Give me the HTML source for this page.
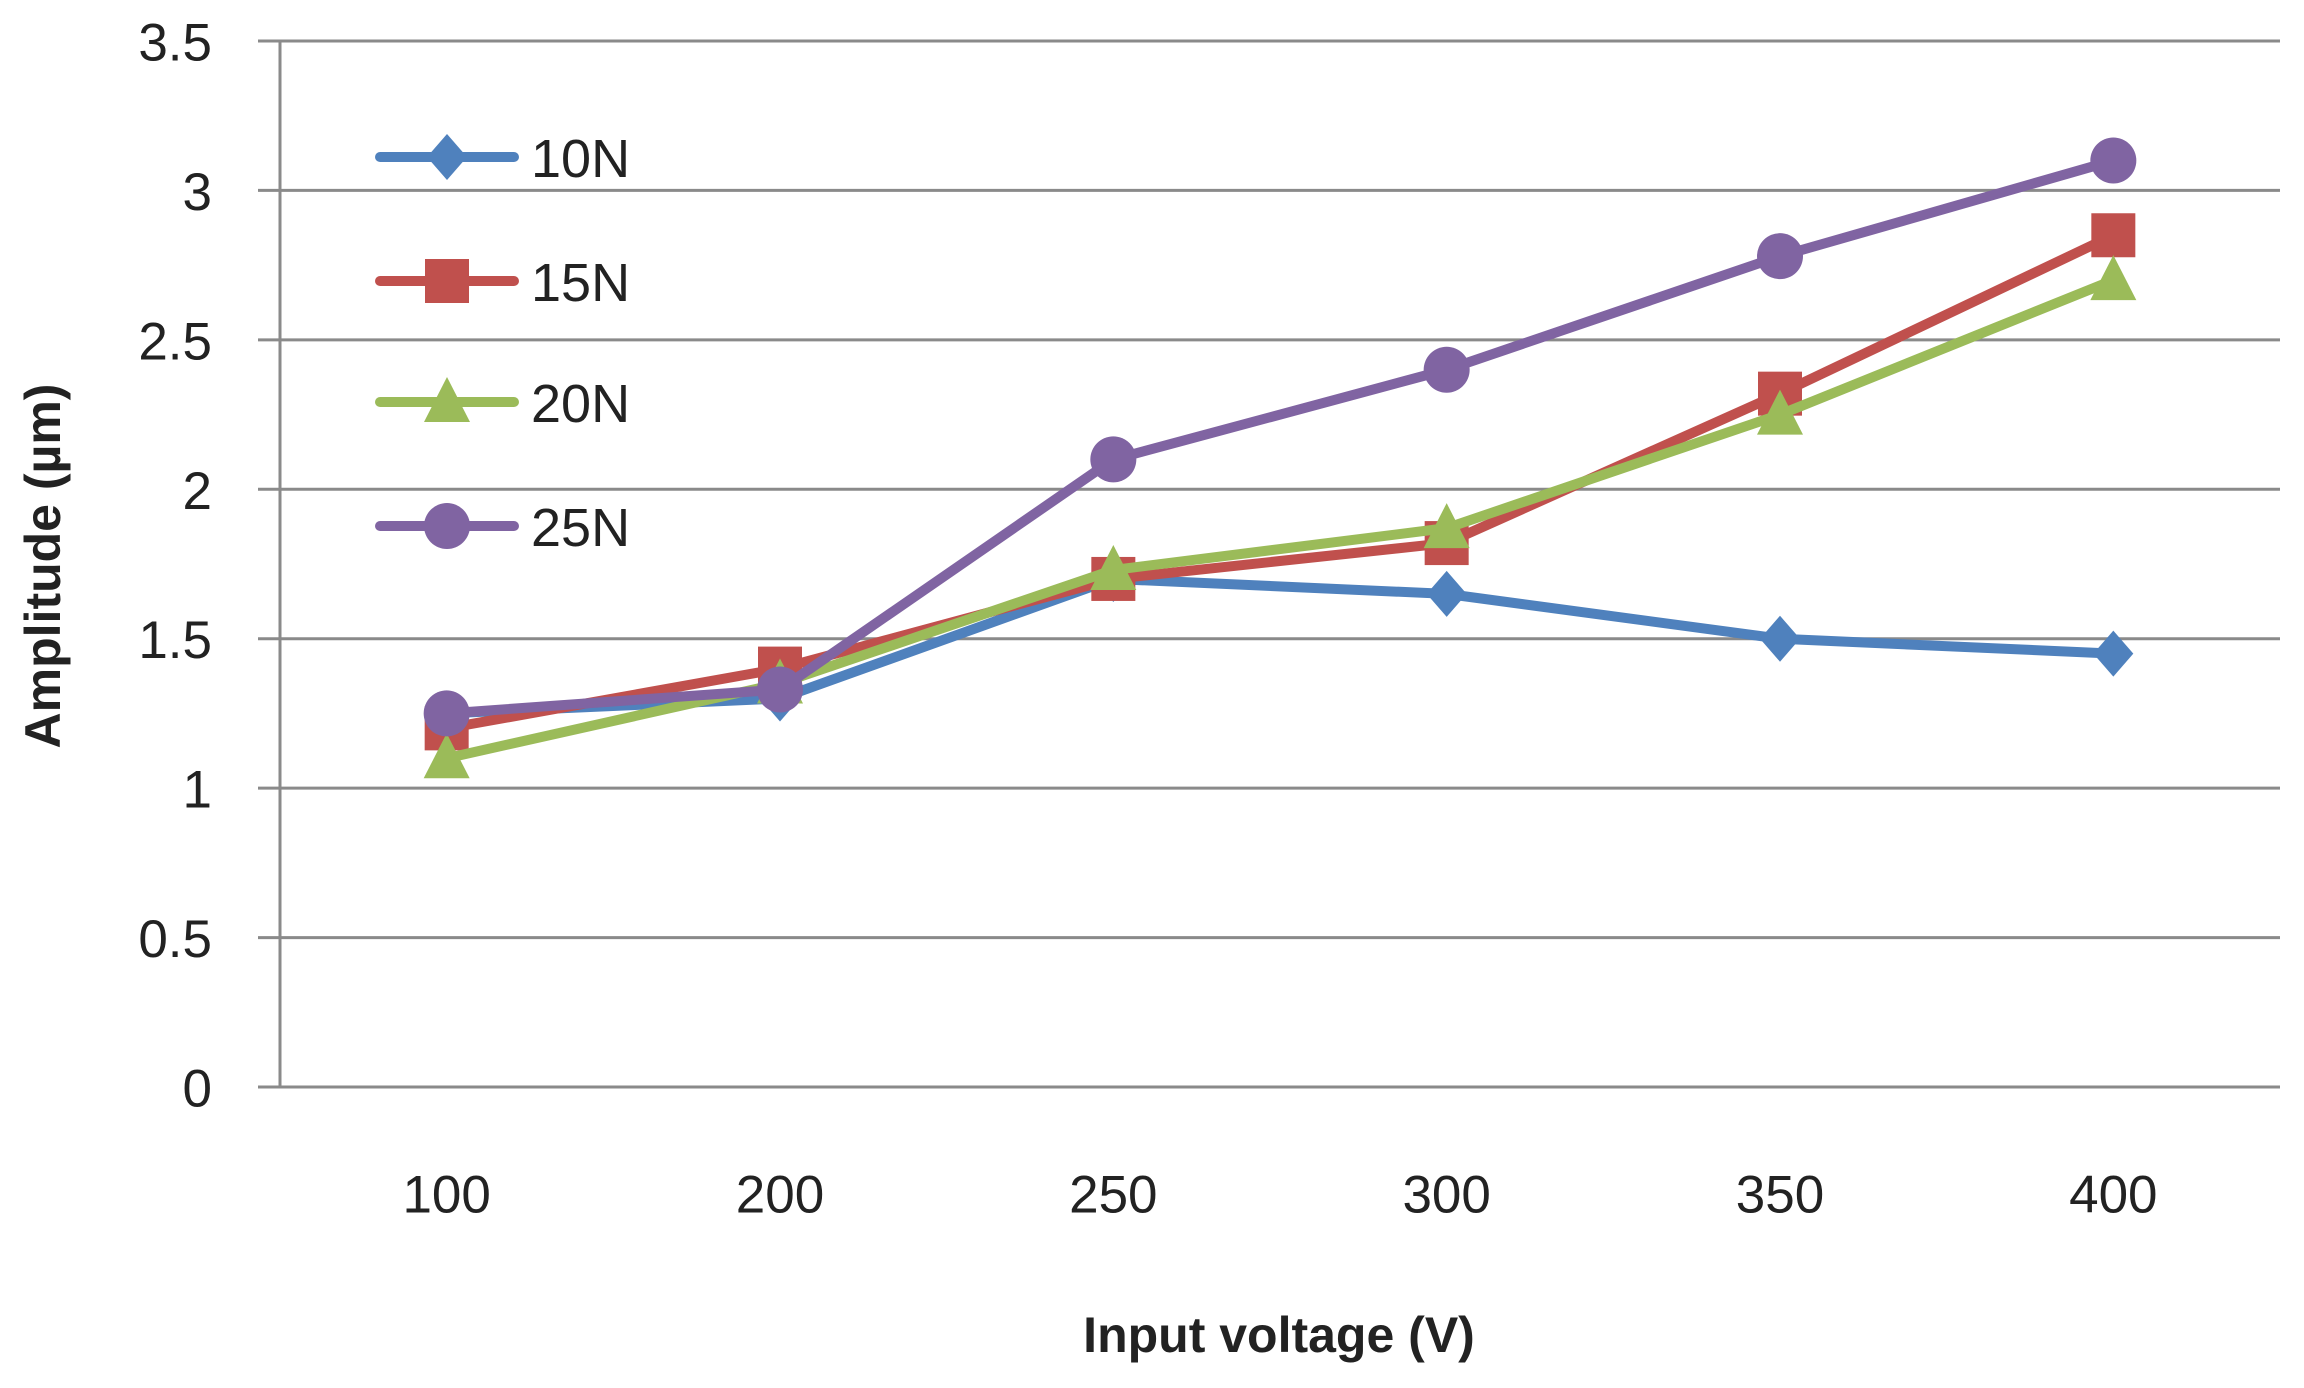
<!DOCTYPE html>
<html><head><meta charset="utf-8"><style>
html,body{margin:0;padding:0;background:#fff;}
svg{display:block;font-family:"Liberation Sans",sans-serif;}
</style></head><body>
<svg id="chart" width="2304" height="1388" viewBox="0 0 2304 1388">
<g id="grid"></g>
<g id="yt"></g>
<g id="xt"></g>
<g id="series"></g>
<g id="legend"></g>
<text x="43" y="566" transform="rotate(-90 43 566)" text-anchor="middle" dominant-baseline="central" font-size="50" font-weight="bold" fill="#222">Amplitude (µm)</text>
<text x="1279" y="1335" text-anchor="middle" dominant-baseline="central" font-size="50" font-weight="bold" fill="#222">Input voltage (V)</text>
</svg>
<script>
const categories = ["100","200","250","300","350","400"];
const yTicks = [0,0.5,1,1.5,2,2.5,3,3.5];
const seriesNames = ["10N","15N","20N","25N"];
const s10 = [1.25,1.30,1.70,1.65,1.50,1.45];
const s15 = [1.20,1.40,1.70,1.82,2.32,2.85];
const s20 = [1.10,1.35,1.73,1.87,2.25,2.70];
const s25 = [1.25,1.33,2.10,2.40,2.78,3.10];

const NS="http://www.w3.org/2000/svg";
const L=280,R=2280,Y0=1087,Ytop=41;
function xS(i){return L+(R-L)/categories.length*(i+0.5);}
function yS(v){return Y0-(Y0-Ytop)*v/3.5;}
function mk(tag,attrs,parent){const e=document.createElementNS(NS,tag);for(const k in attrs)e.setAttribute(k,attrs[k]);parent.appendChild(e);return e;}
const grid=document.getElementById('grid'),yt=document.getElementById('yt'),xt=document.getElementById('xt');
yTicks.forEach(v=>{
  const l=mk('line',{x1:258,x2:R,y1:yS(v),y2:yS(v),stroke:'#8a8a8a','stroke-width':3},grid);
  
  
  const t=mk('text',{x:212,y:yS(v)+2,'text-anchor':'end','dominant-baseline':'central','font-size':53,fill:'#222'},yt);
  t.textContent=String(v);
  
  
});
const ax=mk('line',{x1:L,x2:L,y1:Ytop,y2:Y0,stroke:'#8a8a8a','stroke-width':3},grid);


categories.forEach((c,i)=>{
  const t=mk('text',{x:xS(i),y:1195,'text-anchor':'middle','dominant-baseline':'central','font-size':53,fill:'#222'},xt);
  t.textContent=c;
  
  
});
const colors=["#4F81BD","#C0504D","#9BBB59","#8064A2"];
const shapes=["diamond","square","triangle","circle"];
function marker(shape,x,y,col,parent){
  let e;
  if(shape==='diamond')e=mk('polygon',{points:`${x},${y-23} ${x+20},${y} ${x},${y+23} ${x-20},${y}`,fill:col},parent);
  else if(shape==='square')e=mk('rect',{x:x-22,y:y-22,width:44,height:44,fill:col},parent);
  else if(shape==='triangle')e=mk('polygon',{points:`${x},${y-25} ${x+23},${y+20} ${x-23},${y+20}`,fill:col},parent);
  else e=mk('circle',{cx:x,cy:y,r:23,fill:col},parent);
  return e;
}
const sg=document.getElementById('series');
[s10,s15,s20,s25].forEach((d,k)=>{
  const g=mk('g',{},sg);
  
  
  const p=mk('polyline',{points:d.map((v,i)=>xS(i)+','+yS(v)).join(' '),fill:'none',stroke:colors[k],'stroke-width':10,'stroke-linejoin':'round'},g);
  
  
  d.forEach((v,i)=>{
    const m=marker(shapes[k],xS(i),yS(v),colors[k],g);
    
    
  });
});
const lg=document.getElementById('legend');
const ly=[157,281,402,526];
seriesNames.forEach((n,k)=>{
  const g=mk('g',{},lg);
  
  
  mk('line',{x1:380,x2:514,y1:ly[k],y2:ly[k],stroke:colors[k],'stroke-width':10,'stroke-linecap':'round'},g);
  marker(shapes[k],447,ly[k],colors[k],g);
  const t=mk('text',{x:531,y:ly[k]+2,'dominant-baseline':'central','font-size':54,fill:'#222'},g);
  t.textContent=n;
});
</script>
</body></html>
